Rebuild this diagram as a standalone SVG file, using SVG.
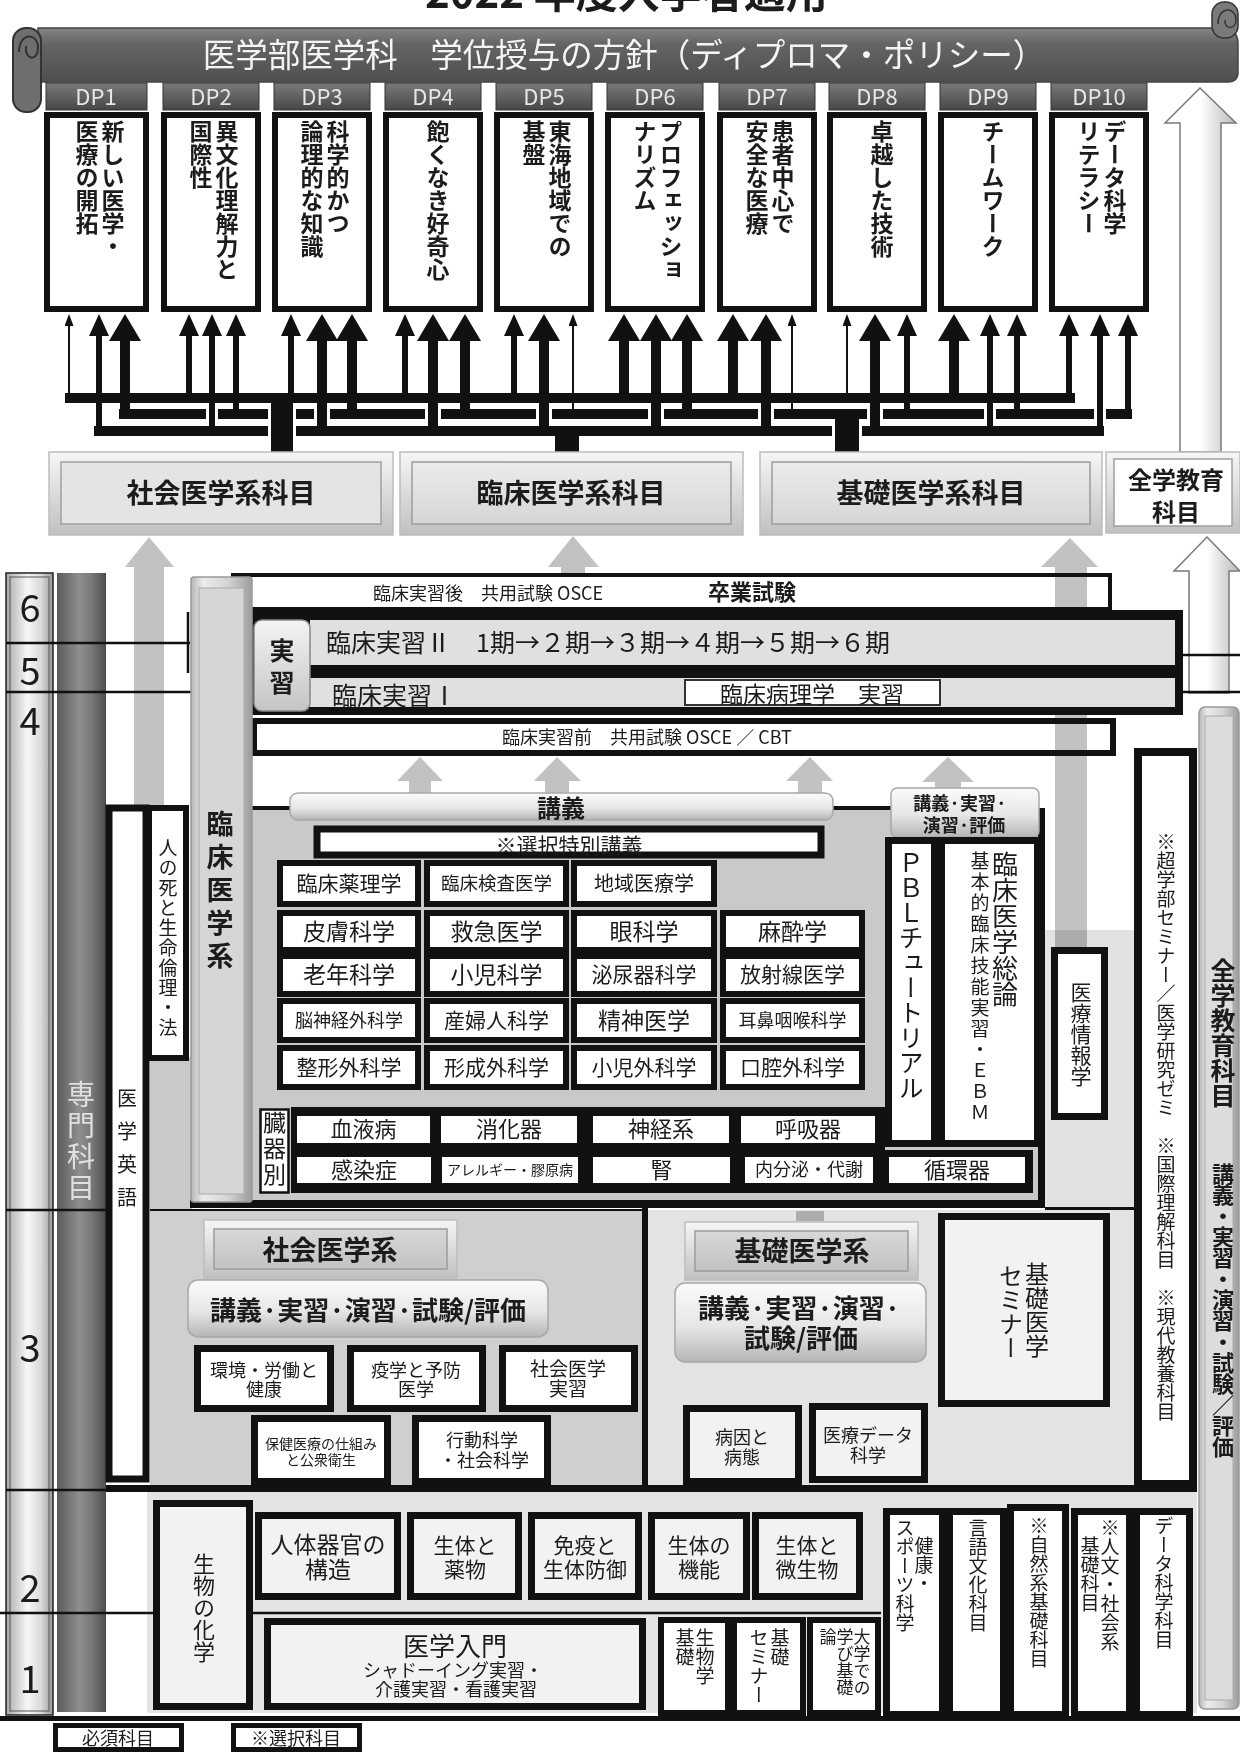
<svg xmlns="http://www.w3.org/2000/svg" width="1240" height="1753" viewBox="0 0 1240 1753">
<defs>
<style>
text{font-family:'Noto Sans CJK JP','Noto Sans CJK SC',sans-serif;fill:#1c1c1c}
.b{font-weight:700}
.v{writing-mode:vertical-rl}
.m{text-anchor:middle}
.dpt{font-size:22px;fill:#e6e6e6;text-anchor:middle}
.dpx{font-size:23px;font-weight:700;writing-mode:vertical-rl}
.tab{fill:url(#gTab);stroke:#333;stroke-width:1}
.dpb{fill:#fff;stroke:#111;stroke-width:6}
.k{fill:#111}
.w{fill:#fff}
.cell{fill:#fff;stroke:#111;stroke-width:6}
.cellL{fill:#f2f2f2;stroke:#111;stroke-width:7}
.thick{fill:#fff;stroke:#111;stroke-width:7}
.ln{stroke:#111;stroke-width:2.5;fill:none}
.ga{fill:#c2c2c2;mix-blend-mode:multiply}
.ha{fill:url(#gHollow);stroke:#7a7a7a;stroke-width:1.5;mix-blend-mode:multiply}
.bev{fill:url(#gBevO);stroke:#bdbdbd;stroke-width:1.5}
.bevi{fill:url(#gBevI);stroke:#9c9c9c;stroke-width:1.5}
.bevi2{fill:url(#gBevI2);stroke:#9c9c9c;stroke-width:1.5}
.pill{fill:url(#gPill);stroke:#a8a8a8;stroke-width:1.5}
.halo{fill:#fff}
</style>
<linearGradient id="gBanner" x1="0" y1="0" x2="0" y2="1"><stop offset="0" stop-color="#858585"/><stop offset="0.3" stop-color="#646464"/><stop offset="1" stop-color="#4f4f4f"/></linearGradient>
<linearGradient id="gTab" x1="0" y1="0" x2="0" y2="1"><stop offset="0" stop-color="#7a7a7a"/><stop offset="1" stop-color="#474747"/></linearGradient>
<linearGradient id="gYear" x1="0" y1="0" x2="1" y2="0"><stop offset="0" stop-color="#a9a9a9"/><stop offset="0.45" stop-color="#f7f7f7"/><stop offset="0.75" stop-color="#d9d9d9"/><stop offset="1" stop-color="#9a9a9a"/></linearGradient>
<linearGradient id="gDark" x1="0" y1="0" x2="1" y2="0"><stop offset="0" stop-color="#5b5b5b"/><stop offset="0.45" stop-color="#8e8e8e"/><stop offset="0.7" stop-color="#7a7a7a"/><stop offset="1" stop-color="#4d4d4d"/></linearGradient>
<linearGradient id="gHollow" x1="0" y1="0" x2="1" y2="0"><stop offset="0" stop-color="#ffffff"/><stop offset="0.5" stop-color="#ffffff"/><stop offset="1" stop-color="#b8b8b8"/></linearGradient>
<linearGradient id="gPill" x1="0" y1="0" x2="0" y2="1"><stop offset="0" stop-color="#fbfbfb"/><stop offset="0.55" stop-color="#e6e6e6"/><stop offset="1" stop-color="#b5b5b5"/></linearGradient>
<linearGradient id="gBevO" x1="0" y1="0" x2="0" y2="1"><stop offset="0" stop-color="#f6f6f6"/><stop offset="1" stop-color="#c0c0c0"/></linearGradient>
<linearGradient id="gBevI" x1="0" y1="0" x2="0" y2="1"><stop offset="0" stop-color="#ebebeb"/><stop offset="1" stop-color="#d6d6d6"/></linearGradient>
<linearGradient id="gBevI2" x1="0" y1="0" x2="0" y2="1"><stop offset="0" stop-color="#d8d8d8"/><stop offset="1" stop-color="#c2c2c2"/></linearGradient>
<linearGradient id="gBar" x1="0" y1="0" x2="1" y2="0"><stop offset="0" stop-color="#b5b5b5"/><stop offset="0.2" stop-color="#ececec"/><stop offset="0.6" stop-color="#d4d4d4"/><stop offset="1" stop-color="#9c9c9c"/></linearGradient>
<linearGradient id="gLabel" x1="0" y1="0" x2="0" y2="1"><stop offset="0" stop-color="#f4f4f4"/><stop offset="1" stop-color="#c4c4c4"/></linearGradient>
<marker id="aS" markerUnits="userSpaceOnUse" markerWidth="12" markerHeight="9" viewBox="0 0 12 9" refX="2" refY="4.5" orient="auto"><path d="M0,0L12,4.5L0,9z" fill="#111"/></marker>
<marker id="aM" markerUnits="userSpaceOnUse" markerWidth="22" markerHeight="20" viewBox="0 0 22 20" refX="3" refY="10" orient="auto"><path d="M0,0L22,10L0,20z" fill="#111"/></marker>
<marker id="aL" markerUnits="userSpaceOnUse" markerWidth="27" markerHeight="32" viewBox="0 0 27 32" refX="3" refY="16" orient="auto"><path d="M0,0L27,16L0,32z" fill="#111"/></marker>
</defs>
<rect x="0" y="0" width="1240" height="1753" fill="#fff"/>

<!-- title (cut by the top edge) -->
<text id="title" class="b" x="425" y="8" font-size="42">2022 年度入学者適用</text>

<!-- background regions -->
<g id="regions">
<rect x="6" y="573" width="47" height="1142" fill="url(#gYear)" stroke="#222" stroke-width="1.5"/>
<rect x="10" y="577" width="39" height="1134" fill="none" stroke="#555" stroke-width="1"/>
<rect x="57" y="573" width="49" height="1139" fill="url(#gDark)"/>
<rect x="252" y="808" width="790" height="397" fill="#c9c9c9"/>
<rect x="150" y="1057" width="42" height="153" fill="#c9c9c9"/>
<rect x="1045" y="930" width="89" height="280" fill="#e2e2e2"/>
<rect x="150" y="1210" width="495" height="280" fill="#cfcfcf"/>
<rect x="648" y="1210" width="486" height="278" fill="#e3e3e3"/>
<rect x="147" y="1492" width="1050" height="221" fill="#e4e4e4"/>
<rect x="1038" y="808" width="7" height="400" class="k"/>
<rect x="190" y="1200" width="855" height="8" class="k"/>
<rect x="1045" y="1207" width="89" height="3" class="k"/>
<rect x="150" y="1209" width="495" height="2" class="k"/>
<rect x="642" y="1200" width="6" height="290" class="k"/>
<rect x="106" y="1485" width="1091" height="7" class="k"/>
<rect x="0" y="1716" width="1240" height="5" class="k"/>
<line class="ln" x1="6" y1="643" x2="190" y2="643"/>
<line class="ln" x1="188" y1="612" x2="188" y2="673" stroke-width="3"/>
<line class="ln" x1="6" y1="692" x2="192" y2="692"/>
<line class="ln" x1="1181" y1="655" x2="1240" y2="655"/>
<line class="ln" x1="1181" y1="692" x2="1240" y2="692"/>
<line class="ln" x1="6" y1="1210" x2="106" y2="1210"/>
<line class="ln" x1="6" y1="1490" x2="106" y2="1490"/>
<line class="ln" x1="0" y1="1613" x2="153" y2="1613"/>
<line class="ln" x1="253" y1="1613" x2="881" y2="1613"/>
<text class="m" x="30" y="622" font-size="38">6</text>
<text class="m" x="30" y="685" font-size="38">5</text>
<text class="m" x="30" y="735" font-size="38">4</text>
<text class="m" x="30" y="1362" font-size="38">3</text>
<text class="m" x="30" y="1602" font-size="38">2</text>
<text class="m" x="30" y="1693" font-size="38">1</text>
<text class="v" x="81" y="1080" font-size="28" letter-spacing="3" style="fill:#e0e0e0">専門科目</text>
</g>

<!-- banner -->
<g id="banner">
<path d="M38,28 H1222 Q1238,28 1238,44 V72 Q1238,82 1228,82 H38 Z" fill="url(#gBanner)" stroke="#444" stroke-width="1.5"/>
<rect x="13" y="28" width="28" height="84" rx="13" fill="#6e6e6e" stroke="#333" stroke-width="2"/>
<path d="M19,52 C19,32 38,32 38,48 C38,62 24,60 26,46" fill="none" stroke="#333" stroke-width="2"/>
<rect x="1212" y="2" width="26" height="36" rx="12" fill="#7a7a7a" stroke="#333" stroke-width="1.5"/>
<path d="M1218,24 C1218,6 1236,6 1236,20 C1236,30 1224,30 1225,20" fill="none" stroke="#333" stroke-width="1.5"/>
<text class="m" x="624" y="67" font-size="32.5" style="fill:#f4f4f4">医学部医学科　学位授与の方針（ディプロマ・ポリシー）</text>
</g>

<!-- DP nodes -->
<g id="dp1"><rect class="tab" x="46" y="83" width="101" height="27"/><text class="dpt" x="96" y="105">DP1</text><rect class="dpb" x="47" y="115" width="99" height="194"/><text class="dpx" x="113" y="120">新しい医学・</text><text class="dpx" x="87" y="120">医療の開拓</text></g>
<g id="dp2"><rect class="tab" x="163" y="83" width="96" height="27"/><text class="dpt" x="211" y="105">DP2</text><rect class="dpb" x="164" y="115" width="94" height="194"/><text class="dpx" x="227" y="120">異文化理解力と</text><text class="dpx" x="201" y="120">国際性</text></g>
<g id="dp3"><rect class="tab" x="274" y="83" width="96" height="27"/><text class="dpt" x="322" y="105">DP3</text><rect class="dpb" x="275" y="115" width="94" height="194"/><text class="dpx" x="338" y="120">科学的かつ</text><text class="dpx" x="312" y="120">論理的な知識</text></g>
<g id="dp4"><rect class="tab" x="385" y="83" width="96" height="27"/><text class="dpt" x="433" y="105">DP4</text><rect class="dpb" x="386" y="115" width="94" height="194"/><text class="dpx" x="438" y="120">飽くなき好奇心</text></g>
<g id="dp5"><rect class="tab" x="496" y="83" width="96" height="27"/><text class="dpt" x="544" y="105">DP5</text><rect class="dpb" x="497" y="115" width="94" height="194"/><text class="dpx" x="560" y="120">東海地域での</text><text class="dpx" x="534" y="120">基盤</text></g>
<g id="dp6"><rect class="tab" x="607" y="83" width="96" height="27"/><text class="dpt" x="655" y="105">DP6</text><rect class="dpb" x="608" y="115" width="94" height="194"/><text class="dpx" x="671" y="120">プロフェッショ</text><text class="dpx" x="645" y="120">ナリズム</text></g>
<g id="dp7"><rect class="tab" x="719" y="83" width="96" height="27"/><text class="dpt" x="767" y="105">DP7</text><rect class="dpb" x="720" y="115" width="94" height="194"/><text class="dpx" x="783" y="120">患者中心で</text><text class="dpx" x="757" y="120">安全な医療</text></g>
<g id="dp8"><rect class="tab" x="829" y="83" width="96" height="27"/><text class="dpt" x="877" y="105">DP8</text><rect class="dpb" x="830" y="115" width="94" height="194"/><text class="dpx" x="882" y="120">卓越した技術</text></g>
<g id="dp9"><rect class="tab" x="940" y="83" width="96" height="27"/><text class="dpt" x="988" y="105">DP9</text><rect class="dpb" x="941" y="115" width="94" height="194"/><text class="dpx" x="993" y="120">チームワーク</text></g>
<g id="dp10"><rect class="tab" x="1051" y="83" width="96" height="27"/><text class="dpt" x="1099" y="105">DP10</text><rect class="dpb" x="1052" y="115" width="94" height="194"/><text class="dpx" x="1115" y="120">データ科学</text><text class="dpx" x="1089" y="120">リテラシー</text></g>

<!-- connectors -->
<g id="connectors">
<rect x="65" y="393" width="1010" height="10" class="k"/>
<rect x="119" y="409" width="1013" height="10" class="k"/>
<rect x="94" y="426" width="1010" height="10" class="k"/>
<g class="halo">
<rect x="206" y="407" width="12" height="14"/><rect x="314" y="407" width="16" height="14"/><rect x="425" y="407" width="16" height="14"/><rect x="536" y="407" width="16" height="14"/><rect x="648" y="407" width="16" height="14"/><rect x="758" y="407" width="16" height="14"/><rect x="867" y="407" width="16" height="14"/><rect x="984" y="407" width="12" height="14"/><rect x="1094" y="407" width="12" height="14"/>
<rect x="268" y="405" width="28" height="16"/><rect x="268" y="424" width="28" height="14"/><rect x="832" y="424" width="30" height="14"/>
</g>
<rect x="271" y="393" width="22" height="60" class="k"/>
<rect x="555" y="426" width="24" height="27" class="k"/>
<rect x="835" y="409" width="24" height="44" class="k"/>
<g stroke="#111" fill="none">
<line x1="69" y1="398" x2="69" y2="324" stroke-width="2" marker-end="url(#aS)"/>
<line x1="99" y1="431" x2="99" y2="333" stroke-width="6" marker-end="url(#aM)"/>
<line x1="125" y1="414" x2="125" y2="338" stroke-width="10" marker-end="url(#aL)"/>
<line x1="189" y1="398" x2="189" y2="333" stroke-width="6" marker-end="url(#aM)"/>
<line x1="212" y1="431" x2="212" y2="333" stroke-width="6" marker-end="url(#aM)"/>
<line x1="236" y1="414" x2="236" y2="333" stroke-width="6" marker-end="url(#aM)"/>
<line x1="291" y1="398" x2="291" y2="333" stroke-width="6" marker-end="url(#aM)"/>
<line x1="322" y1="431" x2="322" y2="338" stroke-width="10" marker-end="url(#aL)"/>
<line x1="352" y1="414" x2="352" y2="338" stroke-width="10" marker-end="url(#aL)"/>
<line x1="405" y1="398" x2="405" y2="333" stroke-width="6" marker-end="url(#aM)"/>
<line x1="433" y1="431" x2="433" y2="338" stroke-width="10" marker-end="url(#aL)"/>
<line x1="465" y1="414" x2="465" y2="338" stroke-width="10" marker-end="url(#aL)"/>
<line x1="514" y1="398" x2="514" y2="333" stroke-width="6" marker-end="url(#aM)"/>
<line x1="544" y1="431" x2="544" y2="338" stroke-width="10" marker-end="url(#aL)"/>
<line x1="573" y1="414" x2="573" y2="324" stroke-width="2" marker-end="url(#aS)"/>
<line x1="624" y1="398" x2="624" y2="338" stroke-width="10" marker-end="url(#aL)"/>
<line x1="656" y1="431" x2="656" y2="338" stroke-width="10" marker-end="url(#aL)"/>
<line x1="687" y1="414" x2="687" y2="338" stroke-width="10" marker-end="url(#aL)"/>
<line x1="733" y1="398" x2="733" y2="338" stroke-width="10" marker-end="url(#aL)"/>
<line x1="766" y1="431" x2="766" y2="338" stroke-width="10" marker-end="url(#aL)"/>
<line x1="792" y1="414" x2="792" y2="324" stroke-width="2" marker-end="url(#aS)"/>
<line x1="847" y1="398" x2="847" y2="324" stroke-width="2" marker-end="url(#aS)"/>
<line x1="875" y1="431" x2="875" y2="338" stroke-width="10" marker-end="url(#aL)"/>
<line x1="907" y1="414" x2="907" y2="333" stroke-width="6" marker-end="url(#aM)"/>
<line x1="954" y1="398" x2="954" y2="338" stroke-width="10" marker-end="url(#aL)"/>
<line x1="990" y1="431" x2="990" y2="333" stroke-width="6" marker-end="url(#aM)"/>
<line x1="1017" y1="414" x2="1017" y2="333" stroke-width="6" marker-end="url(#aM)"/>
<line x1="1069" y1="398" x2="1069" y2="333" stroke-width="6" marker-end="url(#aM)"/>
<line x1="1100" y1="431" x2="1100" y2="333" stroke-width="6" marker-end="url(#aM)"/>
<line x1="1128" y1="414" x2="1128" y2="333" stroke-width="6" marker-end="url(#aM)"/>
<line x1="252" y1="808" x2="292" y2="808" stroke-width="4"/>
<line x1="831" y1="808" x2="893" y2="808" stroke-width="4"/>
</g>
<polygon class="ga" points="149,537 174,567 164,567 164,805 134,805 134,567 125,567"/>
<polygon class="ga" points="573,536 599,567 585,567 585,577 561,577 561,567 548,567"/>
<polygon class="ga" points="1070,538 1098,567 1087,567 1087,950 1055,950 1055,567 1041,567"/>
<polygon class="ga" points="420,757 443,781 431,781 431,795 409,795 409,781 397,781"/>
<polygon class="ga" points="557,757 581,781 569,781 569,795 545,795 545,781 534,781"/>
<polygon class="ga" points="810,757 833,781 822,781 822,795 798,795 798,781 786,781"/>
<polygon class="ga" points="948,757 974,782 961,782 961,790 935,790 935,782 922,782"/>
<rect class="ga" x="796" y="1211" width="28" height="10"/>
<polygon class="ha" points="1200,88 1236,123 1221,123 1221,452 1180,452 1180,123 1165,123"/>
<polygon class="ha" points="1207,537 1240,571 1229,571 1229,693 1189,693 1189,571 1174,571"/>
</g>

<!-- subject groups -->
<g id="shakai-kamoku"><rect class="bev" x="49" y="452" width="344" height="83"/><rect x="61" y="462" width="320" height="62" fill="#e4e4e4" stroke="#a0a0a0" stroke-width="1.5"/><text class="m b" x="221" y="503" font-size="27">社会医学系科目</text></g>
<g id="rinsho-kamoku"><rect class="bev" x="400" y="452" width="343" height="83"/><rect class="bevi" x="412" y="462" width="319" height="62"/><text class="m b" x="571" y="503" font-size="27">臨床医学系科目</text></g>
<g id="kiso-kamoku"><rect class="bev" x="760" y="452" width="342" height="83"/><rect class="bevi" x="772" y="462" width="318" height="62"/><text class="m b" x="931" y="503" font-size="27">基礎医学系科目</text></g>
<g id="zengaku-kamoku"><rect class="bev" x="1106" y="452" width="134" height="81"/><rect x="1114" y="459" width="118" height="67" fill="#fff" stroke="#a0a0a0" stroke-width="1.5"/><text class="m b" font-size="24"><tspan x="1176" y="489">全学教育</tspan><tspan x="1176" y="521">科目</tspan></text></g>

<!-- clinical practice rows -->
<g id="sotsugyo"><rect x="233" y="575" width="877" height="34" fill="none" stroke="#111" stroke-width="4"/><text x="373" y="600" font-size="18">臨床実習後　共用試験 OSCE</text><text class="m b" x="752" y="600" font-size="22">卒業試験</text></g>
<g id="jisshu-block">
<rect x="252" y="610" width="931" height="105" class="k"/>
<rect x="310" y="620" width="865" height="45" fill="#e0e0e0"/>
<rect x="310" y="678" width="865" height="29" fill="#e0e0e0"/>
<text x="326" y="652" font-size="25">臨床実習Ⅱ　1期→２期→３期→４期→５期→６期</text>
<text x="332" y="705" font-size="25">臨床実習Ⅰ</text>
<rect x="685" y="680" width="255" height="25" fill="#fff" stroke="#333" stroke-width="2"/>
<text class="m" x="812" y="703" font-size="23">臨床病理学　実習</text>
</g>
<g id="jisshu-label"><rect x="254" y="620" width="56" height="91" rx="8" fill="url(#gLabel)" stroke="#888" stroke-width="1.5"/><text class="m b" font-size="25"><tspan x="282" y="660">実</tspan><tspan x="282" y="692">習</tspan></text></g>
<g id="rinsho-mae"><rect x="254" y="721" width="859" height="32" fill="none" stroke="#111" stroke-width="6"/><text x="502" y="744" font-size="18">臨床実習前　共用試験 OSCE ／ CBT</text></g>

<!-- left columns -->
<g id="igaku-eigo"><rect class="thick" x="109" y="808" width="37" height="671"/><text class="v" x="127" y="1088" font-size="20" letter-spacing="13">医学英語</text></g>
<g id="shi-rinri"><rect class="cell" x="149" y="808" width="37" height="250"/><text class="v" x="168" y="838" font-size="19" letter-spacing="1">人の死と生命倫理・法</text></g>
<g id="rinsho-kei"><rect x="191" y="577" width="61" height="625" rx="3" fill="url(#gBar)" stroke="#999" stroke-width="1.5"/><rect x="199" y="588" width="45" height="606" fill="#d6d6d6" stroke="#aaa" stroke-width="1"/><text class="v b" x="220" y="810" font-size="27" letter-spacing="6">臨床医学系</text></g>

<!-- lectures -->
<g id="kogi"><rect class="pill" x="290" y="793" width="543" height="27" rx="8"/><text class="m b" x="561" y="817" font-size="24">講義</text></g>
<g id="kogi-jisshu"><rect class="pill" x="891" y="788" width="148" height="49" rx="6"/><text class="m b" font-size="18"><tspan x="960" y="810">講義·実習·</tspan><tspan x="964" y="832">演習·評価</tspan></text></g>
<g id="sentaku-tokubetsu"><rect class="thick" x="317" y="829" width="504" height="26"/><text class="m" x="569" y="853" font-size="21">※選択特別講義</text></g>

<!-- clinical cells -->
<g id="clinical-cells">
<rect class="cell" x="280" y="863" width="138" height="41"/><text class="m" x="349" y="891" font-size="21">臨床薬理学</text>
<rect class="cell" x="427" y="863" width="139" height="41"/><text class="m" x="496.5" y="890" font-size="18.5">臨床検査医学</text>
<rect class="cell" x="574" y="863" width="140" height="41"/><text class="m" x="644" y="890.5" font-size="20">地域医療学</text>
<rect class="cell" x="280" y="913" width="138" height="37"/><text class="m" x="349" y="939.5" font-size="23">皮膚科学</text>
<rect class="cell" x="427" y="913" width="139" height="37"/><text class="m" x="496.5" y="939.5" font-size="23">救急医学</text>
<rect class="cell" x="574" y="913" width="140" height="37"/><text class="m" x="644" y="939.5" font-size="23">眼科学</text>
<rect class="cell" x="723" y="913" width="139" height="37"/><text class="m" x="792.5" y="939.5" font-size="23">麻酔学</text>
<rect class="cell" x="280" y="956" width="138" height="38"/><text class="m" x="349" y="983" font-size="23">老年科学</text>
<rect class="cell" x="427" y="956" width="139" height="38"/><text class="m" x="496.5" y="983" font-size="23">小児科学</text>
<rect class="cell" x="574" y="956" width="140" height="38"/><text class="m" x="644" y="982" font-size="21">泌尿器科学</text>
<rect class="cell" x="723" y="956" width="139" height="38"/><text class="m" x="792.5" y="982" font-size="21">放射線医学</text>
<rect class="cell" x="280" y="1001" width="138" height="39"/><text class="m" x="349" y="1027" font-size="18">脳神経外科学</text>
<rect class="cell" x="427" y="1001" width="139" height="39"/><text class="m" x="496.5" y="1028" font-size="21">産婦人科学</text>
<rect class="cell" x="574" y="1001" width="140" height="39"/><text class="m" x="644" y="1028.5" font-size="23">精神医学</text>
<rect class="cell" x="723" y="1001" width="139" height="39"/><text class="m" x="792.5" y="1027" font-size="18">耳鼻咽喉科学</text>
<rect class="cell" x="280" y="1048" width="138" height="39"/><text class="m" x="349" y="1075" font-size="21">整形外科学</text>
<rect class="cell" x="427" y="1048" width="139" height="39"/><text class="m" x="496.5" y="1075" font-size="21">形成外科学</text>
<rect class="cell" x="574" y="1048" width="140" height="39"/><text class="m" x="644" y="1075" font-size="21">小児外科学</text>
<rect class="cell" x="723" y="1048" width="139" height="39"/><text class="m" x="792.5" y="1075" font-size="21">口腔外科学</text>
</g>

<!-- organ cells -->
<g id="organ-cells">
<rect x="291" y="1107" width="594" height="44" class="k"/>
<rect x="291" y="1150" width="742" height="43" class="k"/>
<rect class="w" x="297" y="1116" width="133" height="27"/><text class="m" x="363.5" y="1137" font-size="22">血液病</text>
<rect class="w" x="441" y="1116" width="136" height="27"/><text class="m" x="509" y="1137" font-size="22">消化器</text>
<rect class="w" x="593" y="1116" width="136" height="27"/><text class="m" x="661" y="1137" font-size="22">神経系</text>
<rect class="w" x="741" y="1116" width="134" height="27"/><text class="m" x="808" y="1137" font-size="22">呼吸器</text>
<rect class="w" x="297" y="1157" width="134" height="26"/><text class="m" x="364" y="1178" font-size="22">感染症</text>
<rect class="w" x="442" y="1157" width="136" height="26"/><text class="m" x="510" y="1175" font-size="14">アレルギー・膠原病</text>
<rect class="w" x="593" y="1157" width="137" height="26"/><text class="m" x="661.5" y="1178" font-size="22">腎</text>
<rect class="w" x="745" y="1157" width="128" height="26"/><text class="m" x="809" y="1176" font-size="18">内分泌・代謝</text>
<rect class="w" x="889" y="1157" width="136" height="26"/><text class="m" x="957" y="1178" font-size="22">循環器</text>
</g>
<g id="zoki-betsu"><rect x="260.5" y="1109.5" width="28" height="83" fill="#fff" stroke="#111" stroke-width="2.5"/><text class="v" x="274.5" y="1111" font-size="23" letter-spacing="3">臓器別</text></g>

<g id="pbl"><rect class="thick" x="888.5" y="840.5" width="46" height="303"/><text class="v" x="911" y="850" font-size="25">ＰＢＬチュートリアル</text></g>
<g id="rinsho-soron"><rect class="thick" x="941.5" y="840.5" width="96" height="303"/><text class="v" x="1005" y="851" font-size="26">臨床医学総論</text><text class="v" x="980" y="851" font-size="19" letter-spacing="2">基本的臨床技能実習・ＥＢＭ</text></g>
<g id="iryo-joho"><rect class="thick" x="1054.5" y="950.5" width="50" height="166"/><text class="v" x="1081" y="982" font-size="21">医療情報学</text></g>
<g id="cho-gakubu"><rect x="1138" y="752" width="55" height="732" fill="#fff" stroke="#111" stroke-width="8"/><text class="v" x="1166" y="832" font-size="19">※超学部セミナー／医学研究ゼミ　※国際理解科目　※現代教養科目</text></g>
<g id="zengaku-col"><rect x="1199" y="707" width="40" height="1002" rx="6" fill="url(#gBar)" stroke="#999" stroke-width="1.5"/><rect x="1205" y="716" width="28" height="984" fill="#dcdcdc" stroke="#aaa" stroke-width="1"/><text class="v b" x="1223" y="958"><tspan font-size="25">全学教育科目</tspan><tspan x="1223" y="1163" font-size="22" letter-spacing="-1">講義・実習・演習・試験／評価</tspan></text></g>

<!-- social medicine (year 3) -->
<g id="shakai-kei"><rect class="bev" x="204" y="1220" width="253" height="58"/><rect class="bevi2" x="214" y="1229" width="233" height="40"/><text class="m b" x="330" y="1260" font-size="27">社会医学系</text></g>
<g id="shakai-kogi"><rect class="pill" x="188" y="1280" width="360" height="57" rx="10"/><text class="m b" x="368" y="1320" font-size="26">講義·実習·演習·試験/評価</text></g>
<g id="kankyo"><rect class="thick" x="197.5" y="1348.5" width="133" height="60"/><text class="m" font-size="18"><tspan x="264" y="1377">環境・労働と</tspan><tspan x="264" y="1396">健康</tspan></text></g>
<g id="ekigaku"><rect class="thick" x="350.5" y="1348.5" width="132" height="60"/><text class="m" font-size="18"><tspan x="416" y="1377">疫学と予防</tspan><tspan x="416" y="1396">医学</tspan></text></g>
<g id="shakai-jisshu"><rect class="thick" x="502.5" y="1348.5" width="132" height="60"/><text class="m" font-size="19"><tspan x="568" y="1376">社会医学</tspan><tspan x="568" y="1396">実習</tspan></text></g>
<g id="hoken"><rect class="thick" x="254.5" y="1418.5" width="133" height="63"/><text class="m" font-size="14"><tspan x="321" y="1449">保健医療の仕組み</tspan><tspan x="321" y="1465">と公衆衛生</tspan></text></g>
<g id="kodo"><rect class="thick" x="415.5" y="1418.5" width="132" height="63"/><text class="m" font-size="18"><tspan x="482" y="1447">行動科学</tspan><tspan x="484" y="1467">・社会科学</tspan></text></g>

<!-- basic medicine (year 3) -->
<g id="kiso-kei"><rect class="bev" x="685" y="1222" width="233" height="58"/><rect class="bevi2" x="695" y="1231" width="213" height="40"/><text class="m b" x="802" y="1261" font-size="27">基礎医学系</text></g>
<g id="kiso-kogi"><rect class="pill" x="675" y="1283" width="251" height="79" rx="10"/><text class="m b" font-size="26"><tspan x="799" y="1318">講義·実習·演習·</tspan><tspan x="801" y="1348">試験/評価</tspan></text></g>
<g id="kiso-seminar"><rect class="cellL" x="941.5" y="1216.5" width="165" height="187"/><text class="v" x="1037" y="1262" font-size="24">基礎医学</text><text class="v" x="1011" y="1264" font-size="24">セミナー</text></g>
<g id="byoin"><rect class="cellL" x="686.5" y="1408.5" width="112" height="73"/><text class="m" font-size="18"><tspan x="742" y="1444">病因と</tspan><tspan x="742" y="1464">病態</tspan></text></g>
<g id="iryo-data"><rect class="cellL" x="812.5" y="1406.5" width="112" height="73"/><text class="m" font-size="18"><tspan x="868" y="1442">医療データ</tspan><tspan x="868" y="1462">科学</tspan></text></g>

<!-- years 1-2 -->
<g id="seibutsu-kagaku"><rect class="cellL" x="156.5" y="1503.5" width="93" height="203"/><text class="v" x="204" y="1553" font-size="22">生物の化学</text></g>
<g id="jintai"><rect class="cellL" x="258.5" y="1515.5" width="139" height="81"/><text class="m" font-size="23"><tspan x="328" y="1553">人体器官の</tspan><tspan x="328" y="1578">構造</tspan></text></g>
<g id="yakubutsu"><rect class="cellL" x="410.5" y="1515.5" width="108" height="81"/><text class="m" font-size="21"><tspan x="465" y="1553">生体と</tspan><tspan x="465" y="1577">薬物</tspan></text></g>
<g id="meneki"><rect class="cellL" x="531.5" y="1515.5" width="107" height="81"/><text class="m" font-size="21"><tspan x="585" y="1553">免疫と</tspan><tspan x="585" y="1577">生体防御</tspan></text></g>
<g id="kino"><rect class="cellL" x="651.5" y="1515.5" width="95" height="81"/><text class="m" font-size="21"><tspan x="699" y="1553">生体の</tspan><tspan x="699" y="1577">機能</tspan></text></g>
<g id="biseibutsu"><rect class="cellL" x="755.5" y="1515.5" width="104" height="81"/><text class="m" font-size="21"><tspan x="807" y="1553">生体と</tspan><tspan x="807" y="1577">微生物</tspan></text></g>
<g id="igaku-nyumon"><rect class="cellL" x="267.5" y="1621.5" width="375" height="85"/><text class="m"><tspan x="455" y="1656" font-size="26">医学入門</tspan><tspan x="453" y="1677" font-size="18">シャドーイング実習・</tspan><tspan x="456" y="1696" font-size="18">介護実習・看護実習</tspan></text></g>
<g id="kiso-seibutsu"><rect class="cell" x="661" y="1620" width="67" height="93"/><text class="v" x="705" y="1628" font-size="19">生物学</text><text class="v" x="685" y="1628" font-size="19">基礎</text></g>
<g id="kiso-seminar1"><rect class="cell" x="734" y="1620" width="69" height="93"/><text class="v" x="780" y="1628" font-size="19">基礎</text><text class="v" x="759" y="1628" font-size="19">セミナー</text></g>
<g id="manabi"><rect class="cell" x="810" y="1620" width="68" height="93"/><text class="v" x="862" y="1628" font-size="17">大学での</text><text class="v" x="845" y="1628" font-size="17">学び基礎</text><text class="v" x="828" y="1628" font-size="17">論</text></g>
<g id="kenko"><rect class="thick" x="886.5" y="1511.5" width="56" height="203"/><text class="v" x="924" y="1536" font-size="19">健康・</text><text class="v" x="905" y="1518" font-size="19">スポーツ科学</text></g>
<g id="gengo"><rect class="thick" x="949.5" y="1511.5" width="54" height="203"/><text class="v" x="978" y="1518" font-size="19">言語文化科目</text></g>
<g id="shizen"><rect class="thick" x="1010.5" y="1507.5" width="55" height="207"/><text class="v" x="1039" y="1516" font-size="19">※自然系基礎科目</text></g>
<g id="jinbun"><rect class="thick" x="1074.5" y="1511.5" width="55" height="203"/><text class="v" x="1110" y="1518" font-size="19">※人文・社会系</text><text class="v" x="1090" y="1536" font-size="19">基礎科目</text></g>
<g id="data-kagaku"><rect class="thick" x="1136.5" y="1511.5" width="53" height="203"/><text class="v" x="1164" y="1516" font-size="19">データ科学科目</text></g>

<!-- legend -->
<g id="legend-hissu"><rect x="55.5" y="1725.5" width="126" height="24" fill="#fff" stroke="#111" stroke-width="5"/><text class="m" x="118" y="1745" font-size="18">必須科目</text></g>
<g id="legend-sentaku"><rect x="233.5" y="1725.5" width="126" height="24" fill="#fff" stroke="#111" stroke-width="5"/><text class="m" x="296" y="1745" font-size="18">※選択科目</text></g>
</svg>
